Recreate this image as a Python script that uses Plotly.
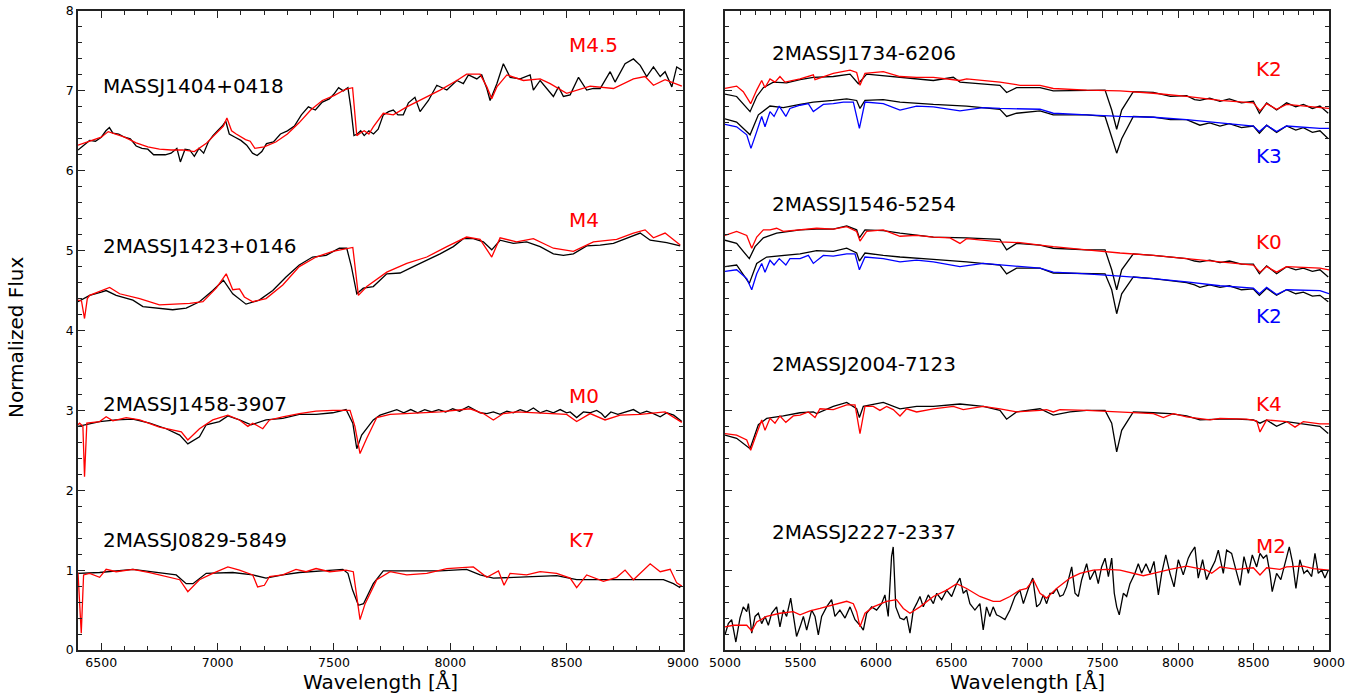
import plotly.graph_objects as go

# ---------------- Left panel data (wavelength in Angstrom, normalized flux) ----------------
j1404_wl = [6400,6425,6450,6475,6500,6520,6535,6550,6575,6600,6625,6650,6675,6700,6725,6750,6775,6800,6825,6840,6860,6880,6900,6920,6940,6960,6980,7000,7020,7035,7050,7075,7100,7125,7150,7170,7190,7210,7240,7270,7300,7330,7360,7390,7420,7450,7480,7500,7520,7540,7560,7572,7586,7600,7615,7630,7650,7670,7690,7712,7735,7755,7775,7798,7820,7848,7870,7906,7942,7985,8028,8056,8078,8114,8135,8157,8171,8200,8228,8257,8300,8343,8357,8386,8414,8443,8465,8486,8515,8551,8586,8615,8644,8687,8708,8751,8787,8816,8844,8873,8902,8923,8952,8973,8995]
j1404_fx = [6.26,6.32,6.38,6.37,6.42,6.50,6.54,6.47,6.46,6.42,6.40,6.31,6.28,6.27,6.20,6.20,6.20,6.22,6.28,6.11,6.27,6.26,6.18,6.28,6.22,6.36,6.44,6.50,6.56,6.62,6.46,6.42,6.38,6.32,6.22,6.19,6.24,6.34,6.36,6.46,6.50,6.56,6.70,6.80,6.76,6.86,6.90,6.96,7.04,7.00,7.04,6.80,6.44,6.46,6.50,6.44,6.50,6.46,6.52,6.70,6.74,6.76,6.70,6.70,6.85,6.92,6.74,6.88,7.07,7.01,7.13,7.09,7.20,7.15,7.20,7.03,6.88,7.09,7.34,7.17,7.15,7.20,7.01,7.13,7.03,6.93,7.05,6.93,6.95,7.17,7.01,7.03,7.03,7.24,7.11,7.34,7.40,7.32,7.18,7.30,7.18,7.24,7.05,7.30,7.26]

m45_wl = [6400,6450,6500,6530,6560,6600,6650,6700,6750,6800,6850,6900,6950,7000,7025,7040,7060,7080,7100,7120,7140,7160,7200,7250,7300,7350,7400,7450,7500,7550,7580,7598,7612,7630,7650,7669,7712,7755,7813,7884,7956,8028,8070,8128,8157,8178,8200,8243,8314,8386,8429,8500,8601,8701,8787,8837,8873,8923,8995]
m45_fx = [6.32,6.37,6.42,6.49,6.46,6.42,6.35,6.30,6.27,6.26,6.26,6.24,6.34,6.48,6.56,6.66,6.50,6.46,6.42,6.39,6.37,6.28,6.30,6.36,6.46,6.60,6.76,6.88,6.94,7.02,7.04,6.44,6.47,6.50,6.46,6.55,6.72,6.70,6.80,6.90,7.01,7.13,7.21,7.21,7.05,6.90,7.05,7.20,7.13,7.15,7.09,6.97,7.06,7.03,7.15,7.18,7.07,7.14,7.06]

j1423_wl = [6400,6450,6500,6521,6564,6600,6636,6679,6750,6807,6865,6922,6979,7025,7065,7100,7122,7179,7237,7294,7351,7408,7466,7523,7555,7575,7598,7626,7669,7727,7784,7841,7899,7956,8013,8056,8099,8142,8178,8214,8271,8328,8386,8443,8486,8529,8586,8644,8701,8758,8816,8859,8930,8988]
j1423_fx = [4.36,4.44,4.48,4.50,4.44,4.41,4.38,4.30,4.28,4.26,4.28,4.36,4.50,4.63,4.46,4.38,4.33,4.38,4.50,4.67,4.82,4.92,4.94,5.03,5.03,4.80,4.46,4.53,4.55,4.71,4.72,4.80,4.88,4.96,5.05,5.15,5.15,5.11,5.01,5.13,5.09,5.11,5.05,4.96,4.94,4.96,5.06,5.07,5.09,5.15,5.22,5.13,5.10,5.06]

m4_wl = [6400,6415,6428,6440,6450,6536,6579,6665,6750,6837,6880,6937,6994,7037,7065,7094,7115,7151,7208,7280,7351,7423,7495,7581,7605,7641,7727,7813,7899,7985,8070,8128,8178,8214,8285,8357,8443,8529,8615,8715,8787,8837,8873,8923,8988]
m4_fx = [4.38,4.37,4.15,4.40,4.44,4.54,4.46,4.40,4.32,4.33,4.34,4.36,4.53,4.71,4.51,4.52,4.42,4.36,4.40,4.57,4.80,4.92,4.99,5.04,4.44,4.55,4.73,4.84,4.92,5.05,5.17,5.14,4.92,5.16,5.11,5.15,5.03,4.99,5.11,5.14,5.22,5.26,5.16,5.22,5.07]

j1458_wl = [6400,6436,6493,6564,6636,6708,6779,6837,6872,6922,6951,7008,7044,7094,7144,7208,7280,7351,7423,7495,7552,7581,7598,7619,7669,7698,7741,7770,7800,7830,7860,7890,7920,7950,7980,8010,8040,8078,8128,8157,8185,8214,8243,8271,8300,8328,8357,8386,8414,8443,8472,8500,8515,8543,8572,8600,8629,8650,8665,8690,8720,8750,8787,8816,8844,8873,8902,8930,8960,8995]
j1458_fx = [2.80,2.82,2.86,2.88,2.89,2.84,2.77,2.69,2.58,2.67,2.82,2.86,2.93,2.88,2.82,2.88,2.90,2.95,2.95,2.97,3.01,2.84,2.52,2.69,2.88,2.94,2.98,3.01,2.97,3.01,2.97,3.01,2.98,3.01,2.98,3.02,2.99,3.05,2.97,2.96,2.98,2.95,2.99,2.97,3.01,2.98,3.03,2.97,3.00,2.97,3.01,2.97,2.98,2.91,2.98,2.97,3.00,2.96,2.91,2.98,2.95,2.98,3.01,2.96,2.99,2.96,2.92,2.97,2.94,2.86]

m0_wl = [6400,6407,6421,6428,6438,6493,6521,6550,6607,6665,6750,6822,6844,6872,6922,6979,7044,7094,7130,7151,7194,7223,7280,7351,7423,7495,7569,7590,7612,7641,7684,7741,7827,7956,8085,8142,8185,8228,8285,8386,8500,8543,8601,8665,8730,8816,8923,8995]
m0_fx = [2.82,2.84,2.80,2.17,2.84,2.86,2.92,2.87,2.91,2.88,2.79,2.75,2.73,2.63,2.77,2.88,2.94,2.88,2.80,2.84,2.77,2.88,2.92,2.96,2.99,3.00,3.00,2.80,2.46,2.65,2.91,2.95,2.96,2.98,3.02,2.96,2.88,2.96,2.98,2.97,2.95,2.86,2.96,2.88,2.94,2.95,2.98,2.85]

j0829_wl = [6400,6493,6636,6779,6822,6865,6894,6951,7065,7151,7208,7280,7351,7495,7538,7560,7580,7605,7627,7669,7712,7813,7956,8070,8128,8185,8314,8457,8543,8672,8816,8916,8959,8988]
j0829_fx = [0.96,0.97,1.01,0.96,0.94,0.83,0.83,0.96,0.97,0.94,0.90,0.94,0.97,1.00,1.01,0.96,0.75,0.56,0.58,0.83,0.99,0.99,0.99,1.01,0.94,0.90,0.91,0.93,0.88,0.88,0.88,0.88,0.83,0.78]

k7_wl = [6400,6414,6424,6450,6493,6521,6564,6636,6708,6779,6837,6872,6922,6979,7044,7094,7151,7172,7201,7223,7280,7337,7380,7423,7481,7552,7583,7612,7634,7684,7741,7813,7899,7985,8099,8157,8207,8231,8257,8328,8386,8457,8515,8543,8586,8658,8715,8751,8787,8859,8902,8945,8973,8995]
k7_fx = [0.97,0.21,0.94,0.96,0.91,1.01,0.98,1.01,0.97,0.92,0.88,0.73,0.88,0.96,1.04,1.00,0.94,0.79,0.81,0.92,0.94,1.01,0.98,1.02,0.98,1.00,0.98,0.38,0.58,0.88,0.98,0.94,0.96,1.02,1.04,0.91,0.99,0.81,0.96,0.94,0.98,0.96,0.90,0.78,0.94,0.86,0.91,1.00,0.88,1.08,0.98,1.01,0.84,0.80]

# ---------------- Right panel data ----------------
k2a_wl = [5000,5077,5121,5170,5210,5243,5265,5298,5331,5364,5397,5497,5585,5596,5717,5828,5872,5894,5927,6048,6159,6269,6380,6556,6600,6821,6954,7086,7174,7395,7616,7837,8057,8278,8499,8543,8587,8653,8719,9000]
k2a_fx = [7.03,7.06,6.99,6.84,7.01,7.13,7.04,7.15,7.11,7.18,7.11,7.15,7.20,7.14,7.22,7.26,7.23,7.07,7.22,7.24,7.18,7.17,7.17,7.13,7.15,7.11,7.07,7.07,7.03,7.01,7.00,6.97,6.93,6.88,6.85,6.75,6.84,6.77,6.83,6.78]

j1734a_wl = [5000,5077,5166,5210,5254,5320,5408,5497,5585,5717,5828,5883,5938,6159,6380,6512,6556,6821,6865,6931,7086,7174,7395,7517,7561,7594,7627,7704,7837,7950,8057,8110,8145,8210,8278,8340,8420,8499,8539,8587,8653,8719,8780,8830,8890,8940,8995]
j1734a_fx = [6.96,6.93,6.74,6.93,7.04,7.11,7.10,7.14,7.17,7.18,7.21,7.09,7.21,7.17,7.13,7.17,7.11,7.07,6.98,7.04,7.04,7.00,7.01,7.01,6.76,6.52,6.76,6.99,6.98,6.93,6.94,6.89,6.88,6.91,6.87,6.90,6.85,6.87,6.72,6.85,6.76,6.85,6.80,6.83,6.78,6.81,6.72]

j1734b_wl = [5000,5077,5166,5221,5298,5386,5497,5585,5717,5806,5872,5894,5927,6048,6159,6380,6600,6821,6865,6931,7086,7174,7395,7517,7561,7594,7627,7704,7837,7950,8057,8110,8145,8210,8278,8340,8420,8499,8539,8587,8653,8719,8780,8830,8890,8940,8995]
j1734b_fx = [6.65,6.61,6.45,6.70,6.81,6.79,6.83,6.86,6.88,6.90,6.88,6.78,6.88,6.89,6.86,6.83,6.81,6.77,6.68,6.72,6.75,6.70,6.70,6.68,6.42,6.22,6.40,6.68,6.67,6.64,6.64,6.60,6.57,6.60,6.56,6.59,6.54,6.56,6.47,6.57,6.48,6.56,6.51,6.54,6.48,6.50,6.40]

k3_wl = [5000,5077,5144,5172,5210,5243,5265,5298,5325,5359,5403,5430,5497,5552,5585,5651,5717,5784,5850,5890,5927,6048,6159,6269,6380,6556,6710,6821,7086,7174,7395,7616,7837,8057,8278,8499,8539,8587,8653,8719,8940,9000]
k3_fx = [6.58,6.55,6.45,6.28,6.49,6.68,6.55,6.74,6.68,6.81,6.68,6.78,6.82,6.84,6.74,6.83,6.84,6.86,6.86,6.53,6.86,6.84,6.76,6.81,6.80,6.75,6.79,6.78,6.77,6.72,6.70,6.68,6.67,6.64,6.60,6.56,6.49,6.57,6.49,6.56,6.53,6.53]

k0_wl = [5000,5077,5144,5177,5210,5254,5298,5342,5386,5497,5607,5717,5806,5872,5894,5938,6048,6159,6269,6380,6490,6556,6600,6821,6954,7086,7174,7395,7616,7837,8057,8278,8499,8543,8587,8653,8719,8940,9000]
k0_fx = [5.19,5.24,5.19,5.03,5.17,5.26,5.26,5.28,5.24,5.26,5.28,5.27,5.30,5.24,5.12,5.24,5.26,5.18,5.19,5.17,5.16,5.09,5.15,5.11,5.10,5.07,5.05,5.01,4.97,4.94,4.90,4.86,4.82,4.73,4.80,4.73,4.80,4.78,4.76]

j1546a_wl = [5000,5077,5161,5199,5254,5342,5497,5607,5717,5806,5872,5890,5927,6048,6159,6380,6600,6821,6865,6931,7086,7174,7395,7517,7561,7594,7627,7704,7837,7950,8057,8110,8145,8210,8278,8340,8420,8499,8539,8587,8653,8719,8780,8830,8890,8940,8995]
j1546a_fx = [5.13,5.09,4.90,5.05,5.16,5.22,5.26,5.27,5.27,5.31,5.26,5.16,5.26,5.25,5.22,5.17,5.16,5.14,5.01,5.09,5.07,5.03,5.01,5.01,4.76,4.51,4.76,4.96,4.94,4.92,4.90,4.87,4.86,4.88,4.85,4.87,4.83,4.83,4.71,4.81,4.71,4.80,4.76,4.78,4.74,4.76,4.67]

j1546b_wl = [5000,5077,5161,5210,5276,5386,5497,5607,5717,5806,5872,5890,5927,6048,6159,6380,6600,6821,6865,6931,7086,7174,7395,7517,7561,7594,7627,7704,7837,7950,8057,8110,8145,8210,8278,8340,8420,8499,8539,8587,8653,8719,8780,8830,8890,8940,8995]
j1546b_fx = [4.80,4.82,4.59,4.84,4.92,4.94,4.96,5.00,4.99,5.03,4.97,4.87,4.97,4.94,4.92,4.89,4.86,4.82,4.71,4.78,4.78,4.72,4.71,4.71,4.51,4.21,4.46,4.67,4.65,4.62,4.60,4.57,4.54,4.57,4.54,4.56,4.51,4.52,4.44,4.53,4.44,4.51,4.46,4.48,4.43,4.44,4.36]

k2b_wl = [5000,5077,5144,5177,5210,5243,5265,5298,5325,5359,5403,5430,5497,5552,5585,5651,5717,5806,5861,5890,5927,6048,6159,6269,6380,6556,6710,6821,7086,7174,7395,7616,7837,8057,8278,8499,8539,8587,8653,8719,8940,9000]
k2b_fx = [4.74,4.76,4.65,4.51,4.71,4.84,4.73,4.88,4.82,4.90,4.82,4.90,4.90,4.94,4.84,4.94,4.93,4.96,4.96,4.76,4.92,4.90,4.86,4.88,4.86,4.80,4.84,4.82,4.78,4.73,4.71,4.68,4.65,4.61,4.56,4.53,4.46,4.54,4.45,4.51,4.50,4.46]

j2004_wl = [5000,5077,5166,5221,5276,5386,5497,5585,5607,5717,5806,5872,5890,5916,6048,6159,6269,6380,6556,6710,6821,6865,6931,7086,7174,7285,7395,7517,7561,7594,7627,7704,7837,7947,8057,8145,8278,8389,8499,8543,8587,8653,8719,8830,8940,8995]
j2004_fx = [2.69,2.65,2.52,2.82,2.90,2.93,2.97,2.98,2.96,3.05,3.10,3.02,2.91,3.05,3.10,3.02,3.05,3.05,3.08,3.05,3.00,2.89,2.98,3.02,2.94,2.98,3.00,3.00,2.84,2.48,2.75,2.98,2.97,2.96,2.93,2.88,2.89,2.89,2.88,2.84,2.88,2.80,2.86,2.83,2.80,2.71]

k4_wl = [5000,5077,5144,5170,5210,5243,5265,5298,5331,5364,5403,5452,5497,5552,5596,5629,5717,5806,5861,5894,5927,5982,6026,6070,6114,6159,6203,6269,6380,6512,6578,6710,6821,6931,7086,7130,7174,7218,7395,7616,7837,7903,7969,8057,8212,8278,8455,8521,8543,8587,8719,8775,8830,8940,9000]
k4_fx = [2.71,2.69,2.63,2.50,2.71,2.88,2.75,2.90,2.84,2.93,2.85,2.93,2.94,2.98,2.91,3.02,3.01,3.07,3.07,2.71,3.05,3.05,3.00,3.05,3.01,2.93,3.02,2.98,3.02,3.05,3.01,3.05,3.02,2.98,3.00,3.01,2.98,3.01,3.00,2.98,2.96,2.91,2.96,2.92,2.88,2.90,2.89,2.87,2.73,2.88,2.86,2.79,2.86,2.83,2.83]

j2227_wl = [5000,5022,5044,5072,5099,5121,5144,5155,5177,5199,5221,5243,5265,5287,5309,5342,5364,5386,5408,5435,5457,5474,5497,5519,5541,5574,5596,5618,5640,5673,5706,5728,5761,5795,5828,5861,5894,5916,5938,5971,6004,6037,6059,6081,6103,6114,6131,6159,6185,6203,6225,6247,6269,6291,6313,6346,6380,6402,6435,6468,6501,6534,6556,6578,6600,6622,6655,6688,6710,6732,6754,6776,6798,6821,6854,6887,6920,6953,6976,7009,7038,7064,7086,7108,7130,7152,7174,7196,7218,7240,7262,7296,7318,7340,7362,7395,7417,7450,7472,7494,7517,7539,7561,7578,7594,7611,7638,7660,7682,7715,7737,7759,7788,7815,7841,7870,7892,7919,7947,7974,8002,8035,8068,8084,8112,8134,8163,8189,8216,8245,8267,8300,8322,8355,8384,8411,8437,8466,8492,8521,8543,8565,8587,8609,8624,8653,8681,8708,8737,8759,8781,8807,8834,8856,8885,8907,8929,8951,8973,8995]
j2227_fx = [0.19,0.33,0.38,0.10,0.40,0.54,0.48,0.58,0.21,0.42,0.46,0.33,0.42,0.31,0.46,0.54,0.29,0.50,0.42,0.65,0.38,0.17,0.29,0.42,0.25,0.50,0.42,0.19,0.42,0.54,0.63,0.42,0.50,0.40,0.54,0.38,0.31,0.25,0.46,0.54,0.50,0.58,0.69,0.42,1.17,1.29,0.54,0.40,0.38,0.42,0.21,0.50,0.58,0.67,0.54,0.69,0.58,0.71,0.63,0.75,0.67,0.83,0.90,0.71,0.75,0.58,0.50,0.58,0.25,0.54,0.42,0.54,0.44,0.42,0.38,0.50,0.67,0.75,0.58,0.77,0.90,0.54,0.58,0.69,0.58,0.71,0.71,0.77,0.67,0.69,0.79,1.04,0.71,0.67,0.88,1.08,0.88,1.00,0.83,1.04,1.15,0.92,1.15,0.71,0.54,0.44,0.71,0.67,0.83,0.96,1.08,0.96,1.08,0.96,1.11,0.69,0.96,1.19,0.96,0.79,1.13,0.94,1.15,1.21,1.29,0.90,1.13,0.88,1.00,1.11,1.25,0.96,1.25,1.21,1.00,0.81,1.17,0.96,1.19,1.04,1.21,1.15,1.19,0.96,0.73,0.96,0.88,1.09,1.29,1.09,0.77,1.13,0.96,1.00,0.92,1.21,0.96,1.00,0.90,1.00]

m2_wl = [5000,5055,5144,5177,5210,5276,5364,5452,5497,5563,5629,5717,5806,5850,5872,5894,5927,5982,6070,6136,6181,6225,6291,6380,6468,6534,6600,6688,6776,6821,6887,6953,6998,7042,7086,7130,7196,7285,7351,7439,7528,7616,7704,7770,7837,7947,8057,8145,8189,8223,8278,8389,8499,8543,8587,8675,8719,8830,8896,9000]
m2_fx = [0.29,0.31,0.31,0.24,0.35,0.42,0.46,0.48,0.44,0.49,0.52,0.56,0.61,0.58,0.48,0.29,0.46,0.54,0.61,0.63,0.52,0.46,0.54,0.67,0.75,0.83,0.77,0.67,0.61,0.61,0.67,0.75,0.77,0.88,0.71,0.65,0.77,0.90,0.96,1.00,1.01,1.00,0.96,0.93,0.96,1.01,1.05,1.02,1.00,0.96,1.04,1.01,1.03,0.94,1.03,1.01,1.04,1.05,1.02,1.00]

# ---------------- Labels ----------------
left_labels = [("MASSJ1404+0418", 6500, 7.06), ("2MASSJ1423+0146", 6500, 5.06),
               ("2MASSJ1458-3907", 6500, 3.08), ("2MASSJ0829-5849", 6500, 1.38)]
left_types = [("M4.5", 8500, 7.58), ("M4", 8500, 5.38), ("M0", 8500, 3.18), ("K7", 8500, 1.38)]
right_labels = [("2MASSJ1734-6206", 5300, 7.48), ("2MASSJ1546-5254", 5300, 5.58),
                ("2MASSJ2004-7123", 5300, 3.58), ("2MASSJ2227-2337", 5300, 1.48)]
right_types = [("K2", 8500, 7.27, "red"), ("K3", 8500, 6.18, "blue"), ("K0", 8500, 5.11, "red"),
               ("K2", 8500, 4.18, "blue"), ("K4", 8500, 3.08, "red"), ("M2", 8500, 1.30, "red")]

BLACK, RED, BLUE = "#000000", "#ff0000", "#0000ff"
LW = 1.3

fig = go.Figure()

def add(wl, fx, color, xa, ya):
    fig.add_trace(go.Scatter(x=wl, y=fx, mode="lines", line=dict(color=color, width=LW),
                             xaxis=xa, yaxis=ya, showlegend=False, hoverinfo="skip"))

for wl, fx, c in [(j1404_wl, j1404_fx, BLACK), (m45_wl, m45_fx, RED),
                  (j1423_wl, j1423_fx, BLACK), (m4_wl, m4_fx, RED),
                  (j1458_wl, j1458_fx, BLACK), (m0_wl, m0_fx, RED),
                  (j0829_wl, j0829_fx, BLACK), (k7_wl, k7_fx, RED)]:
    add(wl, fx, c, "x", "y")

for wl, fx, c in [(j1734a_wl, j1734a_fx, BLACK), (k2a_wl, k2a_fx, RED),
                  (j1734b_wl, j1734b_fx, BLACK), (k3_wl, k3_fx, BLUE),
                  (j1546a_wl, j1546a_fx, BLACK), (k0_wl, k0_fx, RED),
                  (j1546b_wl, j1546b_fx, BLACK), (k2b_wl, k2b_fx, BLUE),
                  (j2004_wl, j2004_fx, BLACK), (k4_wl, k4_fx, RED),
                  (j2227_wl, j2227_fx, BLACK), (m2_wl, m2_fx, RED)]:
    add(wl, fx, c, "x2", "y2")

FONT = "DejaVu Sans"
annotations = []
for t, x, y in left_labels:
    annotations.append(dict(text=t, x=x, y=y, xref="x", yref="y", xanchor="left", yanchor="middle",
                            showarrow=False, font=dict(family=FONT, size=20, color=BLACK)))
for t, x, y in left_types:
    annotations.append(dict(text=t, x=x, y=y, xref="x", yref="y", xanchor="left", yanchor="middle",
                            showarrow=False, font=dict(family=FONT, size=20, color=RED)))
for t, x, y in right_labels:
    annotations.append(dict(text=t, x=x, y=y, xref="x2", yref="y2", xanchor="left", yanchor="middle",
                            showarrow=False, font=dict(family=FONT, size=20, color=BLACK)))
for t, x, y, c in right_types:
    annotations.append(dict(text=t, x=x, y=y, xref="x2", yref="y2", xanchor="left", yanchor="middle",
                            showarrow=False, font=dict(family=FONT, size=20, color=RED if c == "red" else BLUE)))

W, H = 1363, 695
xtitle = "Wavelength [<span style='font-family:DejaVu Serif'>Å</span>]"
annotations.append(dict(text=xtitle, x=380.5 / W, y=1 - 681 / H, xref="paper", yref="paper",
                        xanchor="center", yanchor="middle", showarrow=False,
                        font=dict(family=FONT, size=20, color=BLACK)))
annotations.append(dict(text=xtitle, x=1027 / W, y=1 - 681 / H, xref="paper", yref="paper",
                        xanchor="center", yanchor="middle", showarrow=False,
                        font=dict(family=FONT, size=20, color=BLACK)))
annotations.append(dict(text="Normalized Flux", x=16 / W, y=1 - 337 / H, xref="paper", yref="paper",
                        xanchor="center", yanchor="middle", showarrow=False, textangle=-90,
                        font=dict(family=FONT, size=20, color=BLACK)))

AXC = "#222222"

def xax(domain, rng, tick0):
    return dict(domain=domain, range=rng, tick0=tick0, dtick=500, ticks="inside", ticklen=7,
                tickwidth=1.2, tickcolor=AXC, showline=True, linecolor=AXC, linewidth=1.5,
                mirror="allticks", showgrid=False, zeroline=False, automargin=False,
                tickfont=dict(family=FONT, size=12.5, color=BLACK),
                minor=dict(ticks="inside", dtick=100, ticklen=4, tickwidth=1, tickcolor=AXC, showgrid=False))

def yax(anchor, labels):
    return dict(domain=[1 - 650 / H, 1 - 11 / H], range=[0, 8], dtick=1, tick0=0, ticks="inside",
                ticklen=7, tickwidth=1.2, tickcolor=AXC, showline=True, linecolor=AXC, linewidth=1.5,
                mirror="allticks", showgrid=False, zeroline=False, anchor=anchor, automargin=False,
                showticklabels=labels, tickfont=dict(family=FONT, size=12.5, color=BLACK),
                minor=dict(ticks="inside", dtick=0.2, ticklen=4, tickwidth=1, tickcolor=AXC, showgrid=False))

fig.update_layout(
    width=W, height=H, margin=dict(l=0, r=0, t=0, b=0, autoexpand=False),
    paper_bgcolor="white", plot_bgcolor="white",
    xaxis=dict(xax([78 / W, 683 / W], [6400, 9000], 6500), anchor="y"),
    yaxis=yax("x", True),
    xaxis2=dict(xax([725 / W, 1329 / W], [5000, 9000], 5000), anchor="y2"),
    yaxis2=yax("x2", False),
    annotations=annotations,
    font=dict(family=FONT, color=BLACK),
)

fig.write_html("out.html")
